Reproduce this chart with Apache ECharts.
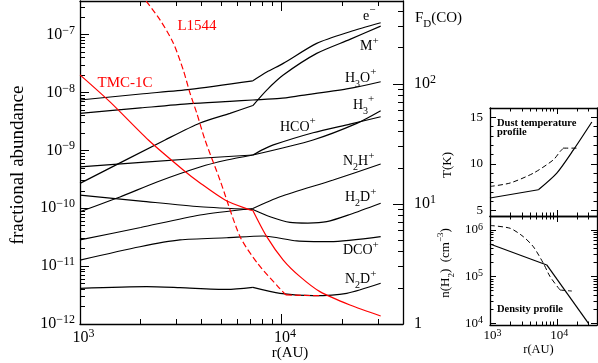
<!DOCTYPE html>
<html>
<head>
<meta charset="utf-8">
<script src="https://cdn.jsdelivr.net/npm/echarts@6/dist/echarts.min.js"></script>
<style>
  html, body { margin: 0; padding: 0; background: #fff; }
  #chart { width: 598px; height: 363px; }
</style>
</head>
<body>
<div id="chart"></div>
<script>
// radius r (AU) vs fractional abundance
const eMinus = [[1000, 7.4e-9], [2000, 9.4e-9], [3513, 1.13e-8], [7200, 1.59e-8], [8437, 2.25e-8], [10190, 3.18e-8], [14930, 7.05e-8], [21820, 1.12e-7], [31000, 1.6e-7]];
const mPlus = [[1000, 2.69e-10], [2642, 1.51e-9], [3939, 2.97e-9], [5544, 4.35e-9], [7200, 5.94e-9], [8437, 1.10e-8], [10190, 2.0e-8], [14930, 4.73e-8], [21820, 8.26e-8], [31000, 1.40e-7]];
const h3oPlus = [[1000, 4.35e-9], [2000, 5.4e-9], [3513, 6.4e-9], [5544, 7.0e-9], [7200, 7.4e-9], [9820, 7.9e-9], [12330, 8.8e-9], [21040, 1.15e-8], [31000, 1.53e-8]];
const hcoPlus = [[1000, 5.2e-10], [3939, 7.3e-10], [7200, 8.3e-10], [8110, 1.04e-9], [9100, 1.24e-9], [14320, 2.01e-9], [21820, 2.84e-9], [31000, 3.8e-9]];
const h3Plus = [[1000, 8.7e-11], [1579, 1.56e-10], [2410, 2.84e-10], [3939, 5.15e-10], [5350, 6.8e-10], [7200, 8.3e-10], [14320, 1.51e-9], [23600, 2.92e-9], [31000, 4.83e-9]];
const n2hPlus = [[1000, 2.83e-11], [2000, 4.65e-11], [3939, 7.64e-11], [7200, 9.9e-11], [9820, 1.58e-10], [18030, 3.07e-10], [31000, 5.8e-10]];
const h2dPlus = [[1000, 1.69e-10], [2000, 1.33e-10], [3939, 1.06e-10], [7200, 9.5e-11], [8767, 7.13e-11], [11010, 5.7e-11], [13500, 5.55e-11], [16750, 5.85e-11], [21820, 7.8e-11], [31000, 1.22e-10]];
const dcoPlus = [[1000, 1.27e-11], [1985, 2.16e-11], [3133, 2.83e-11], [5350, 3.09e-11], [8110, 3.31e-11], [11880, 2.72e-11], [17380, 2.64e-11], [31000, 3.22e-11]];
const n2dPlus = [[1000, 4.14e-12], [2142, 4.41e-12], [3133, 4.24e-12], [5350, 3.95e-12], [7200, 4.3e-12], [9820, 3.39e-12], [14350, 3.08e-12], [21040, 3.39e-12], [31000, 5.05e-12]];

// CO depletion factor F_D (right axis)
const fdTMC1C = [[1000, 118.9], [1409, 70.8], [2183, 34.1], [3251, 19.2], [3939, 14.96], [5240, 10.8], [6970, 8.91], [7200, 8.83], [8437, 5.34], [10190, 3.41], [12340, 2.48], [15490, 1.86], [21820, 1.44], [31000, 1.166]];
const fdL1544 = [[2000, 560], [2494, 341.5], [2905, 218.3], [3251, 130.8], [3513, 83.7], [3796, 57.0], [4169, 34.1], [4943, 15.85], [6222, 5.34], [7640, 3.16], [9590, 2.05], [10510, 1.745], [15490, 1.72]];

// small panels: dust temperature (K) and density n(H2) (cm^-3)
const tempSolid = [[1000, 6.33], [5300, 7.22], [10000, 9.01], [17740, 11.5], [33500, 14.5]];
const tempDashed = [[1000, 7.57], [1995, 7.94], [4460, 9.0], [8890, 10.43], [11190, 11.32], [12560, 11.69], [21090, 11.69]];
const densSolid = [[1000, 5.0e5], [7080, 1.78e5], [29800, 1.0e4]];
const densDashed = [[1000, 1.25e6], [1995, 1.09e6], [3160, 7.18e5], [4460, 4.38e5], [6300, 1.93e5], [7940, 1.0e5], [11190, 5.16e4], [16790, 4.92e4]];

const rLabels = [1000, 10000];
const abLabels = [1e-12, 1e-11, 1e-10, 1e-9, 1e-8, 1e-7];
const fdLabels = [1, 10, 100];
const tLabels = [5, 10, 15];
const nLabels = [1e4, 1e5, 1e6];

const serif = "'Liberation Serif', 'DejaVu Serif', serif";

function minors(lo, hi, max) {
  const out = [];
  for (let d = lo; d <= hi; d++) {
    for (let k = 2; k <= 9; k++) {
      const v = k * Math.pow(10, d);
      if (v < max) out.push(v);
    }
  }
  return out;
}

function powFmt(v) {
  const e = Math.round(Math.log10(v));
  if (e === 0) return '{b|1}';
  return '{b|10}{s|' + String(e).replace('-', '\u2212') + '}';
}

const mainRich = {
  b: { fontFamily: serif, fontSize: 16, lineHeight: 20, color: '#000' },
  s: { fontFamily: serif, fontSize: 12, lineHeight: 12, verticalAlign: 'top', color: '#000' }
};
const sideRich = {
  b: { fontFamily: serif, fontSize: 13, lineHeight: 16, color: '#000' },
  s: { fontFamily: serif, fontSize: 10, lineHeight: 10, verticalAlign: 'top', color: '#000' }
};

function axis(o) {
  return {
    type: o.type || 'log',
    gridIndex: o.grid,
    position: o.pos,
    min: o.min,
    max: o.max,
    axisLine: { show: !!o.line, onZero: false, lineStyle: { color: '#000', width: 1.3 } },
    axisTick: { show: true, inside: true, length: o.len, customValues: o.ticks, lineStyle: { color: '#000', width: 1 } },
    axisLabel: o.labels ? {
      show: true, customValues: o.labels, formatter: o.fmt, margin: o.margin,
      rich: o.rich, padding: o.pad || 0, color: '#000'
    } : { show: false },
    splitLine: { show: false }
  };
}

const rMin = 1000, rMax = 40000;
const rMinor = minors(3, 4, rMax);

const xAxes = [
  axis({ grid: 0, pos: 'bottom', min: rMin, max: rMax, line: true, len: 10, ticks: rLabels, labels: rLabels, fmt: powFmt, rich: mainRich, margin: 4, pad: [0, 0, 0, 7] }),
  axis({ grid: 0, pos: 'bottom', min: rMin, max: rMax, len: 5, ticks: rMinor }),
  axis({ grid: 0, pos: 'top', min: rMin, max: rMax, line: true, len: 10, ticks: [10000] }),
  axis({ grid: 0, pos: 'top', min: rMin, max: rMax, len: 5, ticks: rMinor }),
  axis({ grid: 1, pos: 'top', min: rMin, max: rMax, line: true, len: 6, ticks: [10000] }),
  axis({ grid: 1, pos: 'top', min: rMin, max: rMax, len: 3.5, ticks: rMinor }),
  axis({ grid: 1, pos: 'bottom', min: rMin, max: rMax, line: true, len: 6, ticks: [10000] }),
  axis({ grid: 1, pos: 'bottom', min: rMin, max: rMax, len: 3.5, ticks: rMinor }),
  axis({ grid: 2, pos: 'bottom', min: rMin, max: rMax, line: true, len: 6, ticks: rLabels, labels: rLabels, fmt: powFmt, rich: sideRich, margin: 3, pad: [0, 0, 0, 5] }),
  axis({ grid: 2, pos: 'bottom', min: rMin, max: rMax, len: 3.5, ticks: rMinor }),
  axis({ grid: 2, pos: 'top', min: rMin, max: rMax, line: true, len: 6, ticks: [10000] }),
  axis({ grid: 2, pos: 'top', min: rMin, max: rMax, len: 3.5, ticks: rMinor })
];

const abMax = 3.8e-7, fdMax = 490, nMin = 9200, nMax = 1.995e6;
const tMinor = [6, 7, 8, 9, 11, 12, 13, 14];

const yAxes = [
  axis({ grid: 0, pos: 'left', min: 1e-12, max: abMax, line: true, len: 9, ticks: abLabels, labels: abLabels, fmt: powFmt, rich: mainRich, margin: 5 }),
  axis({ grid: 0, pos: 'left', min: 1e-12, max: abMax, len: 5, ticks: minors(-12, -7, abMax) }),
  axis({ grid: 0, pos: 'right', min: 1, max: fdMax, line: true, len: 10, ticks: fdLabels, labels: fdLabels, fmt: powFmt, rich: mainRich, margin: 11 }),
  axis({ grid: 0, pos: 'right', min: 1, max: fdMax, len: 5, ticks: minors(0, 2, fdMax) }),
  axis({ type: 'value', grid: 1, pos: 'left', min: 4.4, max: 16, line: true, len: 6, ticks: tLabels, labels: tLabels, fmt: v => '{b|' + v + '}', rich: sideRich, margin: 7 }),
  axis({ type: 'value', grid: 1, pos: 'left', min: 4.4, max: 16, len: 3.5, ticks: tMinor }),
  axis({ type: 'value', grid: 1, pos: 'right', min: 4.4, max: 16, line: true, len: 6, ticks: tLabels }),
  axis({ type: 'value', grid: 1, pos: 'right', min: 4.4, max: 16, len: 3.5, ticks: tMinor }),
  axis({ grid: 2, pos: 'left', min: nMin, max: nMax, line: true, len: 6, ticks: nLabels, labels: nLabels, fmt: powFmt, rich: sideRich, margin: 7 }),
  axis({ grid: 2, pos: 'left', min: nMin, max: nMax, len: 3.5, ticks: minors(4, 6, nMax) }),
  axis({ grid: 2, pos: 'right', min: nMin, max: nMax, line: true, len: 6, ticks: nLabels }),
  axis({ grid: 2, pos: 'right', min: nMin, max: nMax, len: 3.5, ticks: minors(4, 6, nMax) })
];

const black = { color: '#000', width: 1.2 };
const red = { color: '#ff0000', width: 1.2 };
const redDash = { color: '#ff0000', width: 1.2, type: [6, 3] };
const thinDash = { color: '#000', width: 1, type: [5, 3] };

// split a curve at its kink so smoothing does not round the corner
function curve(pts, kink, xi, yi, style) {
  const parts = kink ? [pts.filter(p => p[0] <= kink), pts.filter(p => p[0] >= kink)] : [pts];
  return parts.map(d => ({
    type: 'line', xAxisIndex: xi, yAxisIndex: yi, data: d,
    showSymbol: false, symbol: 'none', smooth: 0.25,
    lineStyle: style, silent: true
  }));
}

const series = [].concat(
  curve(eMinus, 7200, 0, 0, black),
  curve(mPlus, 7200, 0, 0, black),
  curve(h3oPlus, 0, 0, 0, black),
  curve(hcoPlus, 7200, 0, 0, black),
  curve(h3Plus, 7200, 0, 0, black),
  curve(n2hPlus, 7200, 0, 0, black),
  curve(h2dPlus, 7200, 0, 0, black),
  curve(dcoPlus, 0, 0, 0, black),
  curve(n2dPlus, 7200, 0, 0, black),
  curve(fdTMC1C, 7200, 0, 2, red),
  curve(fdL1544, 10510, 0, 2, redDash),
  curve(tempSolid, 5300, 4, 4, black),
  curve(tempDashed, 12560, 4, 4, thinDash),
  curve(densSolid, 7080, 8, 8, black),
  curve(densDashed, 11190, 8, 8, thinDash)
);

const chemRich = {
  n: { fontFamily: serif, fontSize: 14, lineHeight: 22, color: '#000' },
  d: { fontFamily: serif, fontSize: 10, lineHeight: 10, verticalAlign: 'bottom', color: '#000' },
  u: { fontFamily: serif, fontSize: 11, lineHeight: 11, verticalAlign: 'top', color: '#000' }
};

function txt(x, y, text, extra) {
  return Object.assign({ type: 'text', x: x, y: y, z: 10, silent: true,
    style: Object.assign({ text: text, fill: '#000', align: 'left', verticalAlign: 'middle', fontFamily: serif, fontSize: 14 }, extra || {}) });
}
function rot(x, y, style) {
  return { type: 'text', x: x, y: y, rotation: Math.PI / 2, z: 10, silent: true,
    style: Object.assign({ fill: '#000', align: 'center', verticalAlign: 'middle', fontFamily: serif }, style) };
}

const graphic = [
  txt(363, 16, '{n|e}{u|\u2212}', { rich: chemRich }),
  txt(360, 46.5, '{n|M}{u|+}', { rich: chemRich }),
  txt(345, 78, '{n|H}{d|3}{n|O}{u|+}', { rich: chemRich }),
  txt(353, 105, '{n|H}{d|3}{u|+}', { rich: chemRich }),
  txt(280, 127, '{n|HCO}{u|+}', { rich: chemRich }),
  txt(343, 161.5, '{n|N}{d|2}{n|H}{u|+}', { rich: chemRich }),
  txt(345, 197.5, '{n|H}{d|2}{n|D}{u|+}', { rich: chemRich }),
  txt(343, 250.5, '{n|DCO}{u|+}', { rich: chemRich }),
  txt(345, 279.5, '{n|N}{d|2}{n|D}{u|+}', { rich: chemRich }),
  txt(125, 83, 'TMC-1C', { fill: '#ff0000', fontSize: 15, align: 'center' }),
  txt(197, 26, 'L1544', { fill: '#ff0000', fontSize: 15, align: 'center' }),
  txt(415, 18, '{f|F}{d|D}{f|(CO)}', { rich: {
    f: { fontFamily: serif, fontSize: 15, lineHeight: 24, color: '#ff0000' },
    d: { fontFamily: serif, fontSize: 11, lineHeight: 11, verticalAlign: 'bottom', color: '#ff0000' }
  } }),
  txt(290, 353, 'r(AU)', { fontSize: 15, align: 'center' }),
  rot(18, 165, { text: 'fractional abundance', fontSize: 19 }),
  txt(497, 123, 'Dust temperature', { fontSize: 10.5, fontWeight: 'bold' }),
  txt(497, 132, 'profile', { fontSize: 10.5, fontWeight: 'bold' }),
  txt(497, 309, 'Density profile', { fontSize: 10.5, fontWeight: 'bold' }),
  rot(448, 165, { text: 'T(K)', fontSize: 13 }),
  rot(446, 263, { text: '{a|n(H}{d|2}{a|)  (cm}{u|\u22123}{a|)}', rich: {
    a: { fontFamily: serif, fontSize: 13, lineHeight: 20, color: '#000' },
    d: { fontFamily: serif, fontSize: 9, lineHeight: 9, verticalAlign: 'bottom', color: '#000' },
    u: { fontFamily: serif, fontSize: 9, lineHeight: 9, verticalAlign: 'top', color: '#000' }
  } }),
  txt(538.5, 350, 'r(AU)', { fontSize: 12.5, align: 'center' })
];

const chart = echarts.init(document.getElementById('chart'), null, { renderer: 'canvas' });
chart.setOption({
  animation: false,
  backgroundColor: '#fff',
  textStyle: { fontFamily: serif },
  grid: [
    { left: 80, top: 1, width: 323, height: 323 },
    { left: 490, top: 108, width: 107, height: 108 },
    { left: 490, top: 216, width: 107, height: 109 }
  ],
  xAxis: xAxes,
  yAxis: yAxes,
  series: series,
  graphic: graphic
});
</script>
</body>
</html>
